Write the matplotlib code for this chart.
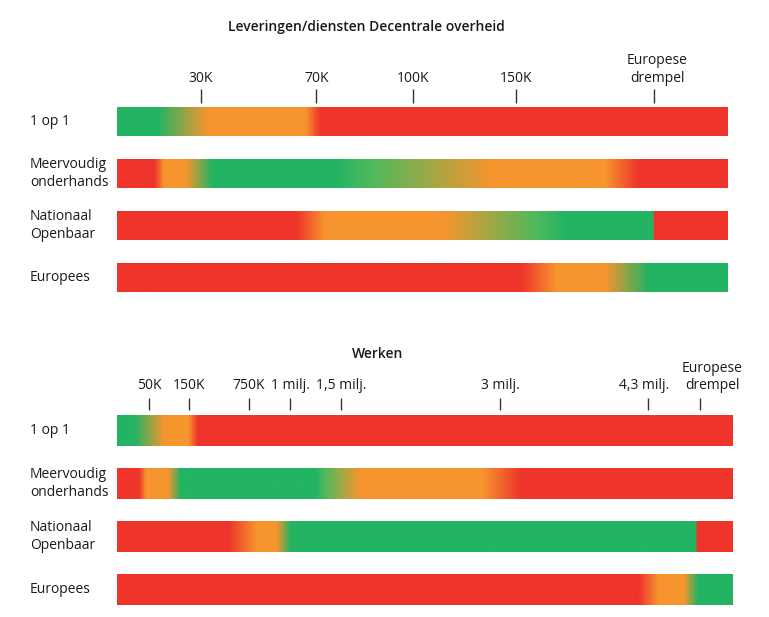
import numpy as np
import matplotlib
matplotlib.use('Agg')
import matplotlib.pyplot as plt
from matplotlib.colors import LinearSegmentedColormap
from matplotlib import transforms

plt.rcParams['font.family'] = ['Open Sans', 'DejaVu Sans']

# colours of the scale
G = '#22b463'
LG = '#52b95c'
O = '#f7952e'
R = '#ee342b'

rows = ['1 op 1', 'Meervoudig\nonderhands', 'Nationaal\nOpenbaar', 'Europees']

# positions along the bar, in percent of bar length
top_title = 'Leveringen/diensten Decentrale overheid'
top_tick_pos = [13.7, 32.6, 48.4, 65.3, 87.9]
top_label_pos = [13.7, 32.6, 48.4, 65.3, 88.4]
top_tick_labels = ['30K', '70K', '100K', '150K', 'Europese\ndrempel']
top_stops = [
  [(0, G), (6.5, G), (14.7, O), (30.8, O), (33.2, R), (100, R)],
  [(0, R), (6.0, R), (7.5, O), (11.1, O), (15.5, G), (35.7, G), (42.0, LG), (61.5, O), (80.0, O), (85.6, R), (100, R)],
  [(0, R), (29.3, R), (34.0, O), (53.4, O), (68.4, LG), (73.6, G), (88.0, G), (88.1, R), (100, R)],
  [(0, R), (66.3, R), (72.0, O), (80.0, O), (87.2, G), (100, G)],
]

bot_title = 'Werken'
bot_tick_pos = [5.2, 11.7, 21.4, 28.1, 36.4, 62.2, 86.2, 94.6]
bot_label_pos = [5.2, 11.7, 21.4, 28.1, 36.4, 62.2, 85.6, 96.6]
bot_tick_labels = ['50K', '150K', '750K', '1 milj.', '1,5 milj.', '3 milj.', '4,3 milj.', 'Europese\ndrempel']
bot_stops = [
  [(0, G), (2.6, G), (7.5, O), (11.4, O), (13.0, R), (100, R)],
  [(0, R), (3.4, R), (4.5, O), (8.1, O), (10.2, G), (32.1, G), (33.8, LG), (39.4, O), (59.4, O), (65.7, R), (100, R)],
  [(0, R), (17.9, R), (22.6, O), (25.8, O), (28.1, G), (94.4, G), (94.5, R), (100, R)],
  [(0, R), (84.9, R), (88.1, O), (92.2, O), (94.6, G), (100, G)],
]

fig = plt.figure(figsize=(7.69, 6.17), dpi=100)

def draw_panel(rect, title, title_xy, stops, tick_pos, label_pos, tick_labels, bar_h, tick_y0, tick_y1, label_y):
  ax = fig.add_axes(rect)
  ax.set_xlim(0, 100)
  ax.set_ylim(len(rows) - 0.5, -0.5)
  ax.axis('off')
  grad = np.linspace(0, 1, 1200).reshape(1, -1)
  for i, st in enumerate(stops):
    cmap = LinearSegmentedColormap.from_list('row%d' % i, [(p / 100.0, c) for p, c in st])
    ax.imshow(grad, cmap=cmap, aspect='auto', interpolation='bilinear',
              extent=(0, 100, i + bar_h / 2, i - bar_h / 2))
  trans = transforms.blended_transform_factory(fig.transFigure, ax.transData)
  for i, lab in enumerate(rows):
    ax.text(30 / 769., i, lab, transform=trans, ha='left', va='center',
            fontsize=10, linespacing=1.25, color='#1a1a1a')
  ax.vlines(tick_pos, tick_y0, tick_y1, color='#333333', lw=1, clip_on=False)
  for p, lab in zip(label_pos, tick_labels):
    ax.text(p, label_y, lab, ha='center', va='bottom', fontsize=10,
            linespacing=1.25, color='#1a1a1a', clip_on=False)
  fig.text(title_xy[0], title_xy[1], title, ha='center', va='center',
           fontsize=10, fontweight='semibold', color='#1a1a1a')
  ax.set_xlim(0, 100)
  return ax

draw_panel([117 / 769., 1 - 303 / 617., 611 / 769., 207 / 617.], top_title, (366 / 769., 1 - 27 / 617.),
           top_stops, top_tick_pos, top_label_pos, top_tick_labels, 0.56, -0.64, -0.37, -0.69)
draw_panel([117 / 769., 1 - 616 / 617., 616 / 769., 212 / 617.], bot_title, (378 / 769., 1 - 354 / 617.),
           bot_stops, bot_tick_pos, bot_label_pos, bot_tick_labels, 0.58, -0.61, -0.39, -0.70)

plt.savefig('out.png', dpi=100)
